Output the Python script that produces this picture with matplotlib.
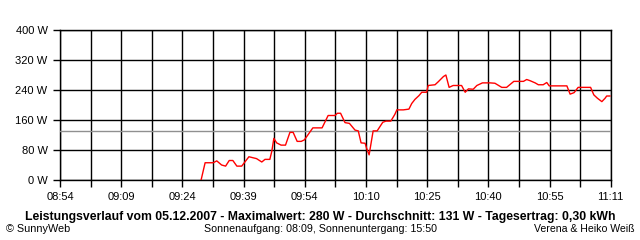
import numpy as np
import matplotlib
matplotlib.use("Agg")
import matplotlib.pyplot as plt

# Minuten seit 08:54 und Leistung in W
minutes = [35.1, 36.1, 38.1, 39.0, 40.2, 41.2, 42.1, 43.0, 44.0, 45.2, 47.0, 48.9,
           50.2, 51.0, 52.2, 52.7, 53.2, 53.9, 55.0, 56.1, 57.2, 58.0, 59.0, 60.0,
           60.8, 62.9, 65.2, 66.7, 68.4, 69.0, 69.8, 70.9, 72.0, 73.4, 74.2, 74.9,
           75.9, 76.3, 76.9, 77.9, 78.9, 80.3, 81.1, 82.3, 83.3, 83.8, 85.4, 86.8,
           87.5, 88.3, 89.3, 90.0, 91.2, 91.6, 93.3, 94.1, 95.4, 96.0, 96.8, 97.8,
           99.9, 100.8, 101.6, 102.8, 103.7, 105.1, 107.0, 108.2, 109.9, 111.1, 112.9,
           115.3, 116.1, 116.9, 118.2, 119.0, 120.2, 121.1, 121.7, 126.1, 126.9, 127.9,
           128.9, 132.0, 132.8, 133.7, 134.8, 135.6, 136.0, 136.8]
power = [0, 46, 46, 51, 40, 37, 52, 52, 37, 37, 62, 57,
         48, 55, 55, 77, 111, 99, 93, 93, 127, 127, 103, 103,
         107, 139, 139, 172, 172, 178, 178, 153, 151, 133, 131, 99,
         98, 84, 67, 131, 131, 154, 157, 157, 175, 187, 187, 189,
         204, 215, 225, 234, 234, 252, 254, 262, 276, 280, 247, 252,
         252, 234, 243, 242, 252, 259, 259, 258, 247, 247, 263,
         263, 268, 265, 259, 254, 254, 260, 251, 251, 229, 233,
         247, 247, 227, 218, 209, 218, 224, 224]

average = 131
time_labels = ['08:54', '09:09', '09:24', '09:39', '09:54',
               '10:10', '10:25', '10:40', '10:55', '11:11']
y_ticks = [0, 80, 160, 240, 320, 400]

total_min = 137
font = 'Liberation Sans'
plt.rcParams['font.family'] = font
plt.rcParams['font.size'] = 8

fig = plt.figure(figsize=(6.4, 2.4), dpi=100)
ax = fig.add_axes([60 / 640, 60 / 240, 550.7 / 640, 150 / 240])

grid_x = np.linspace(0, total_min, 19)
ax.set_xlim(0, total_min)
ax.set_ylim(0, 400)
ax.set_xticks(grid_x)
ax.set_xticklabels([time_labels[i // 2] if i % 2 == 0 else '' for i in range(19)])
ax.set_yticks(y_ticks)
ax.set_yticklabels([f'{v} W' for v in y_ticks])
ax.tick_params(length=5, width=1, color='black', pad=4, labelsize=8)
ax.grid(True, color='black', linewidth=1)
for s in ax.spines.values():
    s.set_linewidth(1)

ax.axhline(average, color='#909090', linewidth=1, zorder=3)
ax.plot(minutes, power, color='#ff0000', linewidth=1, zorder=4)

fig.text(320 / 640, 1 - 217 / 240,
         'Leistungsverlauf vom 05.12.2007 - Maximalwert: 280 W - Durchschnitt: 131 W - Tagesertrag: 0,30 kWh',
         ha='center', va='center', fontsize=8.8, fontweight='bold')
fig.text(6 / 640, 1 - 228.5 / 240, '© SunnyWeb', ha='left', va='center', fontsize=7.8)
fig.text(320 / 640, 1 - 228.5 / 240, 'Sonnenaufgang: 08:09, Sonnenuntergang: 15:50',
         ha='center', va='center', fontsize=7.7)
fig.text(634 / 640, 1 - 228.5 / 240, 'Verena & Heiko Weiß', ha='right', va='center', fontsize=7.6)

fig.savefig('out.png', dpi=100)
